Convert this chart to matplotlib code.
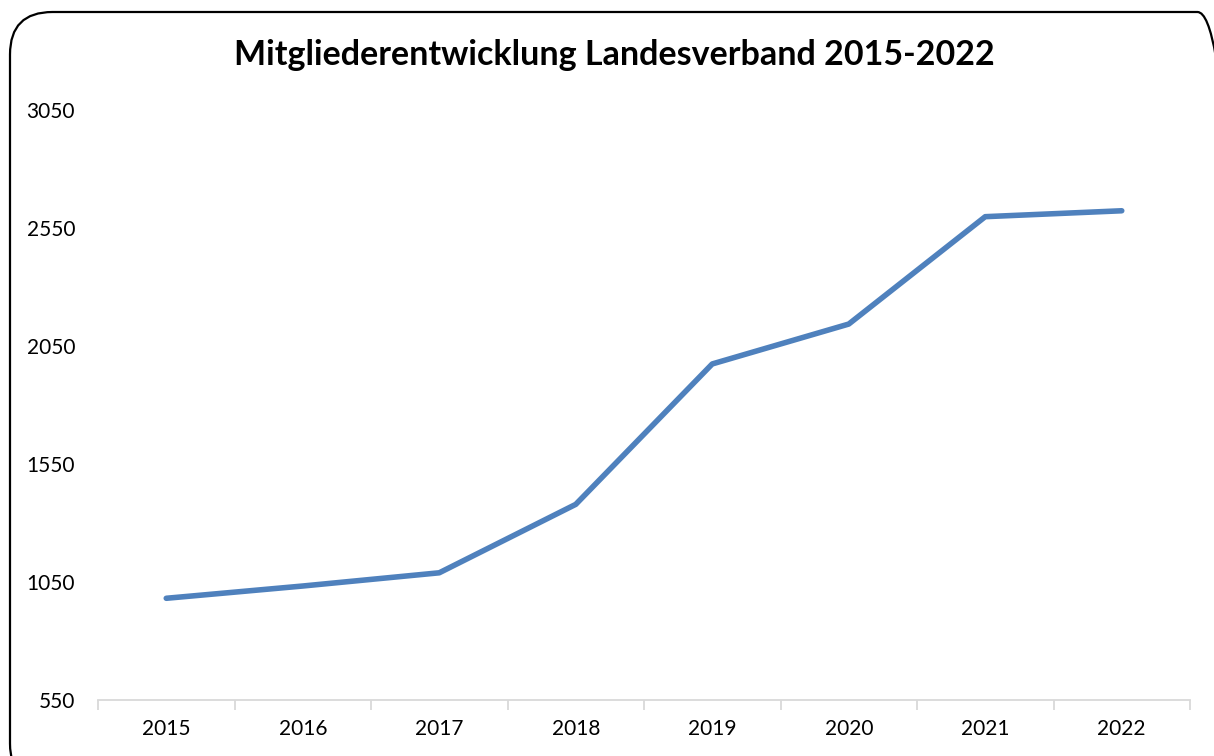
import matplotlib
matplotlib.use("Agg")
import matplotlib.pyplot as plt
from matplotlib.patches import FancyBboxPatch

years = ["2015", "2016", "2017", "2018", "2019", "2020", "2021", "2022"]
members = [981, 1033, 1089, 1379, 1974, 2143, 2598, 2623]
y_ticks = [550, 1050, 1550, 2050, 2550, 3050]
title = "Mitgliederentwicklung Landesverband 2015-2022"

plt.rcParams['font.family'] = ['Lato', 'DejaVu Sans']

W, H = 1214, 756
fig = plt.figure(figsize=(W / 100, H / 100), dpi=100)
ax = fig.add_axes([98 / W, 1 - 700 / H, (1190 - 98) / W, (700 - 110) / H])

x = list(range(len(years)))
ax.plot(x, members, color="#4f81bd", linewidth=4.0, solid_capstyle="round",
        solid_joinstyle="round")

ax.set_xlim(-0.5, len(years) - 0.5)
ax.set_ylim(y_ticks[0], y_ticks[-1])
ax.set_yticks(y_ticks)
ax.set_yticklabels([str(v) for v in y_ticks], fontsize=15)
ax.tick_params(axis="y", length=0, pad=16.5)

ax.set_xticks(x)
ax.set_xticklabels(years, fontsize=15)
ax.tick_params(axis="x", which="major", length=0, pad=14)
ax.set_xticks([i - 0.5 for i in range(len(years) + 1)], minor=True)
ax.tick_params(axis="x", which="minor", length=7, color="#d9d9d9", width=1.3,
               direction="out")

for s in ["top", "right", "left"]:
    ax.spines[s].set_visible(False)
ax.spines["bottom"].set_color("#d9d9d9")
ax.spines["bottom"].set_linewidth(1.3)

fig.text(614 / W, 1 - 55 / H, title, ha="center", va="center",
         fontsize=24.5, fontweight="bold")

frame = FancyBboxPatch((10 / W, -30 / H), (1240 - 10) / W, (744 + 30) / H,
                       boxstyle="round,pad=0,rounding_size=0.035",
                       transform=fig.transFigure, fill=False,
                       edgecolor="black", linewidth=1.6, mutation_aspect=W / H)
fig.patches.append(frame)

fig.savefig("out.png", dpi=100)
